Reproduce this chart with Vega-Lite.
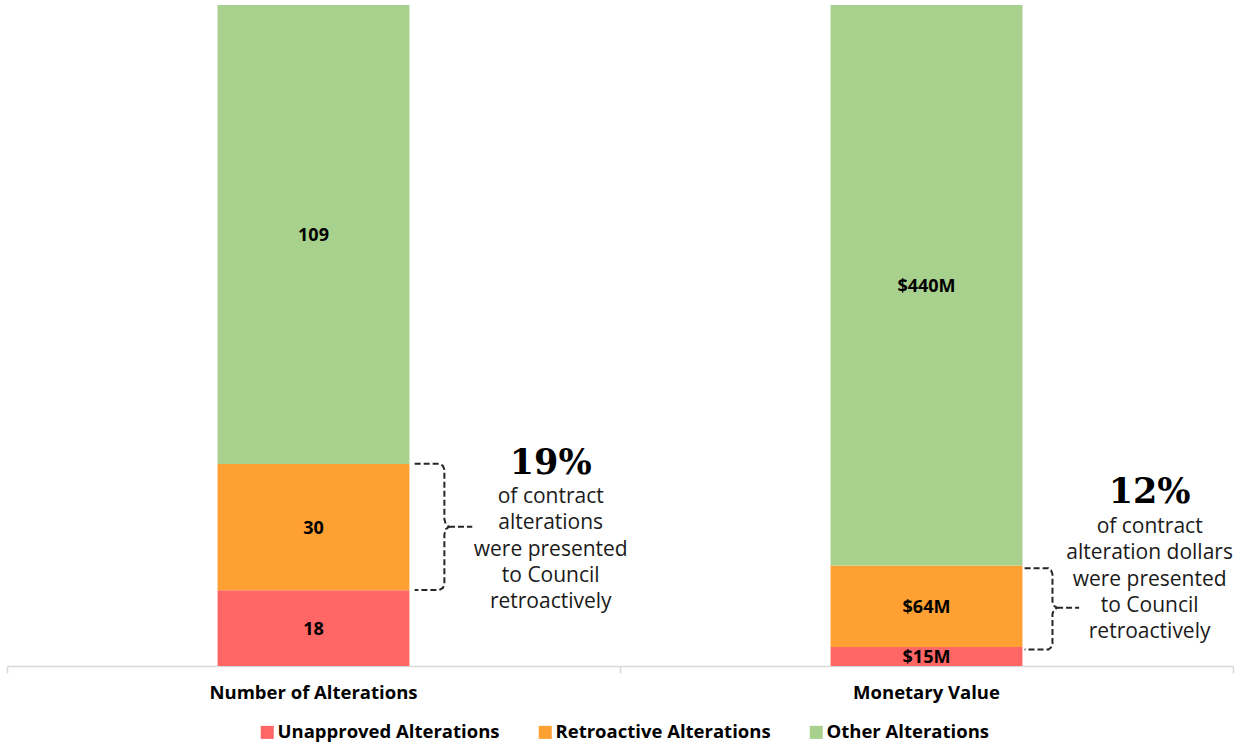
{
  "$schema": "https://vega.github.io/schema/vega-lite/v6.json",
  "width": 1226,
  "height": 661,
  "autosize": {"type": "none"},
  "padding": {"left": 7, "top": 5, "right": 14, "bottom": 80},
  "background": "white",
  "config": {"view": {"stroke": null}, "font": "Open Sans"},
  "layer": [
    {
      "data": {"values": [
        {"measure": "Number of Alterations", "category": "Unapproved Alterations", "value": 18, "label": "18"},
        {"measure": "Number of Alterations", "category": "Retroactive Alterations", "value": 30, "label": "30"},
        {"measure": "Number of Alterations", "category": "Other Alterations", "value": 109, "label": "109"},
        {"measure": "Monetary Value", "category": "Unapproved Alterations", "value": 15, "label": "$15M"},
        {"measure": "Monetary Value", "category": "Retroactive Alterations", "value": 64, "label": "$64M"},
        {"measure": "Monetary Value", "category": "Other Alterations", "value": 440, "label": "$440M"}
      ]},
      "transform": [
        {"stack": "value", "groupby": ["measure"], "sort": [{"field": "category", "order": "descending"}], "offset": "normalize", "as": ["y0", "y1"]},
        {"calculate": "(datum.y0 + datum.y1) / 2", "as": "ymid"}
      ],
      "encoding": {
        "x": {
          "field": "measure", "type": "nominal",
          "sort": ["Number of Alterations", "Monetary Value"],
          "scale": {"paddingInner": 0, "paddingOuter": 0},
          "axis": {"title": null, "orient": "bottom", "domain": false, "ticks": false, "labelAngle": 0, "labelFont": "Open Sans", "labelFontWeight": "bold", "labelFontSize": 18.5, "labelColor": "#000000", "labelPadding": 17, "labelLimit": 0}
        }
      },
      "layer": [
        {
          "mark": {"type": "bar", "width": {"band": 0.313}},
          "encoding": {
            "y": {"field": "y0", "type": "quantitative", "scale": {"domain": [0, 1], "nice": false}, "axis": null},
            "y2": {"field": "y1"},
            "color": {
              "field": "category", "type": "nominal",
              "scale": {"domain": ["Unapproved Alterations", "Retroactive Alterations", "Other Alterations"], "range": ["#FF6666", "#FFA033", "#A9D18E"]},
              "legend": {"title": null, "orient": "none", "legendX": 251, "legendY": 718, "direction": "horizontal", "symbolType": "square", "symbolSize": 170, "symbolStrokeWidth": 0, "labelFont": "Open Sans", "labelFontWeight": "bold", "labelFontSize": 18.5, "labelColor": "#000000", "columnPadding": 36, "labelOffset": 1, "labelLimit": 0, "padding": 0}
            }
          }
        },
        {
          "mark": {"type": "text", "font": "Open Sans", "fontWeight": "bold", "fontSize": 18, "color": "#000000", "dy": 2},
          "encoding": {
            "y": {"field": "ymid", "type": "quantitative", "scale": {"domain": [0, 1], "nice": false}, "axis": null},
            "text": {"field": "label"}
          }
        }
      ]
    },
    {
      "layer": [
        {
          "data": {"values": [
            {"seg": "L-body", "i": 1, "bx": 0.665, "by": 0.306},
            {"seg": "L-body", "i": 2, "bx": 0.705, "by": 0.306},
            {"seg": "L-body", "i": 3, "bx": 0.711, "by": 0.303},
            {"seg": "L-body", "i": 4, "bx": 0.7135, "by": 0.297},
            {"seg": "L-body", "i": 5, "bx": 0.7135, "by": 0.222},
            {"seg": "L-body", "i": 6, "bx": 0.716, "by": 0.214},
            {"seg": "L-body", "i": 7, "bx": 0.721, "by": 0.2105},
            {"seg": "L-body", "i": 8, "bx": 0.716, "by": 0.207},
            {"seg": "L-body", "i": 9, "bx": 0.7135, "by": 0.199},
            {"seg": "L-body", "i": 10, "bx": 0.7135, "by": 0.124},
            {"seg": "L-body", "i": 11, "bx": 0.711, "by": 0.118},
            {"seg": "L-body", "i": 12, "bx": 0.705, "by": 0.115},
            {"seg": "L-body", "i": 13, "bx": 0.665, "by": 0.115},
            {"seg": "L-stem", "i": 1, "bx": 0.721, "by": 0.2105},
            {"seg": "L-stem", "i": 2, "bx": 0.759, "by": 0.2105},
            {"seg": "R-body", "i": 1, "bx": 1.66, "by": 0.148},
            {"seg": "R-body", "i": 2, "bx": 1.699, "by": 0.148},
            {"seg": "R-body", "i": 3, "bx": 1.703, "by": 0.145},
            {"seg": "R-body", "i": 4, "bx": 1.7055, "by": 0.139},
            {"seg": "R-body", "i": 5, "bx": 1.7055, "by": 0.097},
            {"seg": "R-body", "i": 6, "bx": 1.708, "by": 0.091},
            {"seg": "R-body", "i": 7, "bx": 1.713, "by": 0.088},
            {"seg": "R-body", "i": 8, "bx": 1.708, "by": 0.085},
            {"seg": "R-body", "i": 9, "bx": 1.7055, "by": 0.079},
            {"seg": "R-body", "i": 10, "bx": 1.7055, "by": 0.034},
            {"seg": "R-body", "i": 11, "bx": 1.703, "by": 0.028},
            {"seg": "R-body", "i": 12, "bx": 1.699, "by": 0.025},
            {"seg": "R-body", "i": 13, "bx": 1.66, "by": 0.025},
            {"seg": "R-stem", "i": 1, "bx": 1.713, "by": 0.088},
            {"seg": "R-stem", "i": 2, "bx": 1.749, "by": 0.088}
          ]},
          "mark": {"type": "line", "strokeDash": [6, 3], "strokeWidth": 2, "color": "#262626"},
          "encoding": {
            "x": {"field": "bx", "type": "quantitative", "scale": {"domain": [0, 2], "nice": false, "zero": false},
                  "axis": {"title": null, "orient": "bottom", "values": [0, 1, 2], "labels": false, "ticks": true, "tickSize": 7, "tickColor": "#d9d9d9", "domainColor": "#d9d9d9", "domainWidth": 1.5, "tickWidth": 1.5, "grid": false}},
            "y": {"field": "by", "type": "quantitative", "scale": {"domain": [0, 1], "nice": false}, "axis": null},
            "detail": {"field": "seg"},
            "order": {"field": "i"}
          }
        },
        {
          "data": {"values": [
            {"tx": 0.887, "ty": 0.307, "t": "19%"},
            {"tx": 1.864, "ty": 0.263, "t": "12%"}
          ]},
          "mark": {"type": "text", "font": "DejaVu Serif", "fontWeight": "bold", "fontSize": 35, "color": "#000000"},
          "encoding": {
            "x": {"field": "tx", "type": "quantitative", "scale": {"domain": [0, 2], "nice": false, "zero": false}},
            "y": {"field": "ty", "type": "quantitative", "scale": {"domain": [0, 1], "nice": false}, "axis": null},
            "text": {"field": "t"}
          }
        },
        {
          "data": {"values": [
            {"tx": 0.887, "ty": 0.2557, "t": "of contract\nalterations\nwere presented\nto Council\nretroactively"},
            {"tx": 1.864, "ty": 0.2103, "t": "of contract\nalteration dollars\nwere presented\nto Council\nretroactively"}
          ]},
          "mark": {"type": "text", "font": "Open Sans", "fontSize": 21, "lineBreak": "\n", "lineHeight": 26.3, "color": "#1a1a1a", "baseline": "middle"},
          "encoding": {
            "x": {"field": "tx", "type": "quantitative", "scale": {"domain": [0, 2], "nice": false, "zero": false}},
            "y": {"field": "ty", "type": "quantitative", "scale": {"domain": [0, 1], "nice": false}, "axis": null},
            "text": {"field": "t"}
          }
        }
      ]
    }
  ],
  "resolve": {"scale": {"x": "independent"}}
}
